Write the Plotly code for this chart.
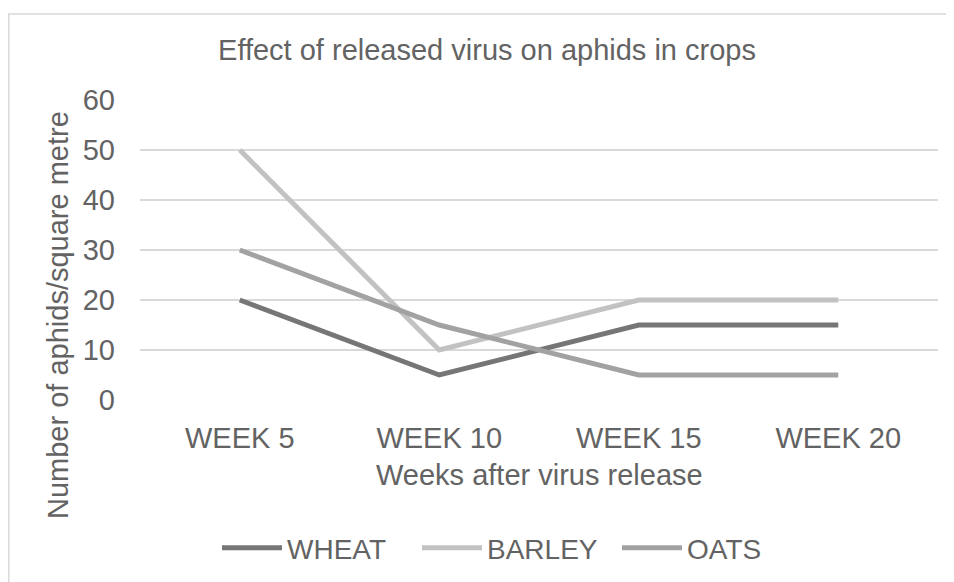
import plotly.graph_objects as go

categories = ["WEEK 5", "WEEK 10", "WEEK 15", "WEEK 20"]
wheat = [20, 5, 15, 15]
barley = [50, 10, 20, 20]
oats = [30, 15, 5, 5]
y_ticks = [0, 10, 20, 30, 40, 50, 60]

OFF = 8  # page body margin
W, H = 954 - OFF, 582 - OFF
L, R, T, B = 140 - OFF, 16, 100 - OFF, 182
PW, PH = W - L - R, H - T - B

def px_x(p):  # screen px -> paper
    return (p - OFF - L) / PW

def px_y(p):
    return (H - B - (p - OFF)) / PH

FONT = "Liberation Sans, Arial, sans-serif"
TXT = "#636363"

fig = go.Figure()
for name, vals, col in [("WHEAT", wheat, "#767676"),
                        ("BARLEY", barley, "#c2c2c2"),
                        ("OATS", oats, "#a2a2a2")]:
    fig.add_trace(go.Scatter(x=categories, y=vals, name=name, mode="lines",
                             line=dict(color=col, width=5, shape="linear")))

fig.update_layout(
    width=W, height=H,
    margin=dict(l=L, r=R, t=T, b=B, autoexpand=False),
    paper_bgcolor="white", plot_bgcolor="white",
    font=dict(family=FONT, size=29, color=TXT),
    title=dict(text="Effect of released virus on aphids in crops",
               x=(487 - OFF) / W, xref="container", xanchor="center",
               y=1 - (50 - OFF) / H, yref="container", yanchor="middle",
               font=dict(size=29, color=TXT, family=FONT)),
    xaxis=dict(type="category", range=[-0.5, 3.5], showgrid=False,
               showline=False, zeroline=False, ticks="",
               ticklabelstandoff=18, tickfont=dict(size=29, color=TXT)),
    yaxis=dict(range=[0, 60], tickvals=y_ticks, showgrid=True,
               gridcolor="#d9d9d9", gridwidth=1.5, zeroline=False,
               showline=False, ticks="", ticklabelstandoff=24,
               tickfont=dict(size=29, color=TXT)),
    showlegend=True,
    legend=dict(orientation="h", x=px_x(517), xanchor="center",
                y=px_y(548), yanchor="middle",
                font=dict(size=28, color=TXT, family=FONT),
                itemwidth=60, entrywidth=125, entrywidthmode="pixels",
                traceorder="normal", bgcolor="rgba(0,0,0,0)"),
    annotations=[
        dict(text="Weeks after virus release", xref="paper", yref="paper",
             x=px_x(539), y=px_y(475), xanchor="center", yanchor="middle",
             showarrow=False, font=dict(size=29, color=TXT, family=FONT)),
        dict(text="Number of aphids/square metre", xref="paper", yref="paper",
             x=px_x(58), y=px_y(315), xanchor="center", yanchor="middle",
             textangle=-90, showarrow=False,
             font=dict(size=29, color=TXT, family=FONT)),
    ],
    shapes=[dict(type="rect", xref="paper", yref="paper",
                 x0=px_x(8.75), x1=px_x(970), y0=px_y(600), y1=px_y(14),
                 line=dict(color="#d9d9d9", width=1.5), layer="below")],
)

fig.write_html("out.html")
